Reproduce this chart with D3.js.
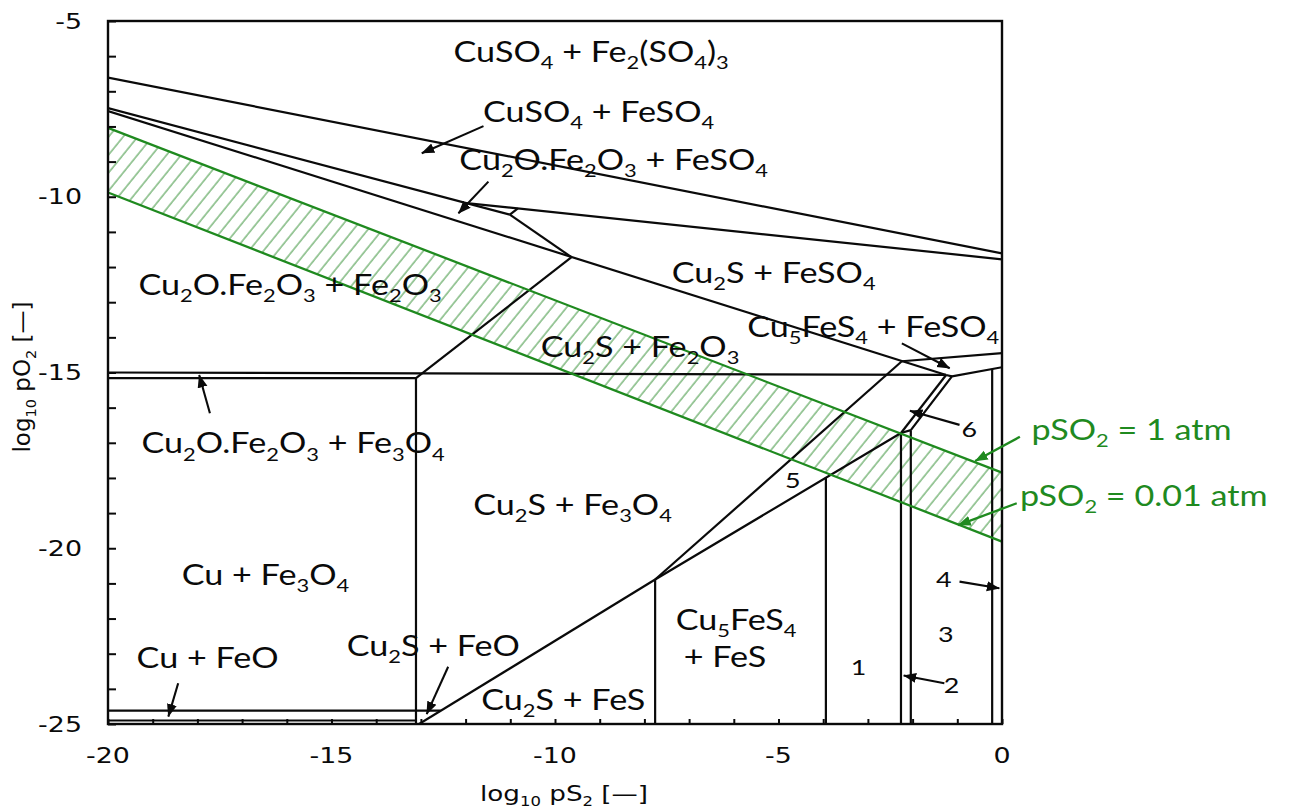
<!DOCTYPE html>
<html>
<head>
<meta charset="utf-8">
<script src="https://cdn.jsdelivr.net/npm/d3@7"></script>
<style>
  html, body { margin: 0; padding: 0; background: #fff; }
  svg { display: block; }
  text { white-space: pre; }
</style>
</head>
<body>
<svg id="chart" width="1291" height="812"></svg>
<script>
// ---- axis ranges and ticks (log10 pS2 on x, log10 pO2 on y) ----
const xDomain = [-20, 0];
const yDomain = [-25, -5];
const xMinorTicks = d3.range(-20, 1, 1);
const yMinorTicks = d3.range(-25, -4, 1);
const xTickLabels = [-20, -15, -10, -5, 0];
const yTickLabels = [-25, -20, -15, -10, -5];

// ---- phase boundaries, polylines in (log10 pS2, log10 pO2) ----
const boundaries = [
  [[-20, -6.61], [0, -11.61]],
  [[-20, -7.48], [-11.01, -10.51]],
  [[-11.98, -10.18], [0, -11.78]],
  [[-11.01, -10.51], [-10.83, -10.33]],
  [[-11.01, -10.51], [-9.63, -11.72]],
  [[-20, -7.56], [-1.25, -15.07]],
  [[-13.11, -15.16], [-9.63, -11.72]],
  [[-20, -15.0], [-1.25, -15.07]],
  [[-20, -15.16], [-13.11, -15.16], [-13.11, -25]],
  [[-20, -24.62], [-12.56, -24.62]],
  [[-20, -24.90], [-13.11, -24.90]],
  [[-13.04, -25], [-7.76, -20.89]],
  [[-7.76, -20.89], [-7.76, -25]],
  [[-7.76, -20.89], [-2.24, -14.68]],
  [[-2.24, -14.68], [0, -14.45]],
  [[-7.76, -20.89], [-2.26, -16.72], [-2.04, -16.64]],
  [[-3.94, -17.99], [-3.94, -25]],
  [[-2.26, -16.72], [-2.26, -25]],
  [[-2.04, -16.64], [-2.04, -25]],
  [[-2.26, -16.72], [-1.25, -15.07]],
  [[-2.04, -16.64], [-1.12, -15.11], [0, -14.85]],
  [[-1.25, -15.07], [-1.12, -15.11]],
  [[-0.22, -14.90], [-0.22, -25]]
];

// ---- SO2 isobars: log10 pO2 at log10 pS2 = -20 and 0 ----
const so2Names = ["pSO_2 = 1 atm", "pSO_2 = 0.01 atm"];
const so2AtLeft = [-8.04, -9.88];
const so2AtRight = [-17.85, -19.81];

// ---- field names (left edge / baseline, in data units) ----
const fieldNames = [
  "CuSO_4 + Fe_2(SO_4)_3", "CuSO_4 + FeSO_4", "Cu_2O.Fe_2O_3 + FeSO_4",
  "Cu_2S + FeSO_4", "Cu_2O.Fe_2O_3 + Fe_2O_3", "Cu_5FeS_4 + FeSO_4",
  "Cu_2S + Fe_2O_3", "Cu_2O.Fe_2O_3 + Fe_3O_4", "Cu_2S + Fe_3O_4",
  "Cu + Fe_3O_4", "Cu_2S + FeO", "Cu + FeO", "Cu_5FeS_4", "+ FeS", "Cu_2S + FeS"
];
const fieldX = [-12.27, -11.61, -12.14, -7.39, -19.32, -5.70, -10.32, -19.25, -11.83, -18.35, -14.66, -19.36, -7.30, -7.12, -11.65];
const fieldY = [-6.16, -7.86, -9.24, -12.45, -12.80, -13.98, -14.55, -17.30, -19.05, -21.05, -23.07, -23.42, -22.33, -23.37, -24.60];

// small numbered fields (centre / baseline)
const fieldNumbers = ["1", "2", "3", "4", "5", "6"];
const numberX = [-3.21, -1.13, -1.26, -1.30, -4.68, -0.73];
const numberY = [-23.61, -24.11, -22.66, -21.09, -18.29, -16.83];

// ---- pointer arrows [from, to] ----
const blackArrows = [
  [[-11.60, -7.99], [-12.98, -8.76]],
  [[-11.49, -9.57], [-12.16, -10.47]],
  [[-17.72, -16.16], [-17.96, -15.07]],
  [[-18.43, -23.84], [-18.65, -24.79]],
  [[-12.39, -23.37], [-12.87, -24.72]],
  [[-2.24, -14.17], [-1.17, -14.88]],
  [[-0.95, -16.49], [-2.06, -16.09]],
  [[-1.29, -23.84], [-2.20, -23.62]],
  [[-0.95, -20.95], [-0.06, -21.14]]
];
const greenArrows = [
  [[0.40, -16.83], [-0.60, -17.52]],
  [[0.33, -18.72], [-0.98, -19.34]]
];
const so2LabelX = [0.66, 0.40];
const so2LabelY = [-16.92, -18.80];

// ---- layout ----
const plot = { left: 108, right: 1002, top: 21, bottom: 724 };
const stretch = 1.22;          // horizontal widening of lettering
const ink = "#0a0a0a";
const green = "#1f8a1f";

const svg = d3.select("#chart");
const x = d3.scaleLinear().domain(xDomain).range([plot.left, plot.right]);
const y = d3.scaleLinear().domain(yDomain).range([plot.bottom, plot.top]);
const line = d3.line().x(d => x(d[0])).y(d => y(d[1]));

const defs = svg.append("defs");
function marker(id, color) {
  defs.append("marker")
    .attr("id", id)
    .attr("markerUnits", "userSpaceOnUse")
    .attr("markerWidth", 14).attr("markerHeight", 11)
    .attr("refX", 12.5).attr("refY", 5.5)
    .attr("orient", "auto")
    .append("path").attr("d", "M0,0.5 L13,5.5 L0,10.5 Z").attr("fill", color);
}
marker("headBlack", ink);
marker("headGreen", green);

// hatch pattern for the SO2 band
defs.append("pattern")
  .attr("id", "hatch")
  .attr("patternUnits", "userSpaceOnUse")
  .attr("width", 11.3).attr("height", 40)
  .attr("patternTransform", "rotate(39)")
  .append("line")
  .attr("x1", 1).attr("y1", 0).attr("x2", 1).attr("y2", 40)
  .attr("stroke", "#4f9e4f").attr("stroke-width", 1.1);

defs.append("clipPath").attr("id", "plotClip")
  .append("rect")
  .attr("x", plot.left).attr("y", plot.top)
  .attr("width", plot.right - plot.left).attr("height", plot.bottom - plot.top);

// rich text with subscripts written as _2 or _{10}
function rich(textSel, str, subSize, shift) {
  const parts = str.split(/(_\{[^}]*\}|_\d+)/).filter(s => s.length);
  let inSub = false;
  parts.forEach(p => {
    if (p[0] === "_") {
      const t = p[1] === "{" ? p.slice(2, -1) : p.slice(1);
      textSel.append("tspan").attr("font-size", subSize).attr("dy", inSub ? 0 : shift).text(t);
      inSub = true;
    } else {
      const ts = textSel.append("tspan").text(p);
      if (inSub) ts.attr("dy", -shift);
      inSub = false;
    }
  });
}
function label(parent, px, py, str, opts) {
  const g = parent.append("g")
    .attr("transform", `translate(${px},${py}) scale(${opts.sx || stretch},1)`);
  const t = g.append("text")
    .attr("font-family", opts.family)
    .attr("font-size", opts.size)
    .attr("fill", opts.color || ink)
    .attr("text-anchor", opts.anchor || "start");
  rich(t, str, opts.subSize || opts.size * 0.64, opts.shift || opts.size * 0.26);
  return g;
}

// ---- SO2 band ----
const bandPts = [
  [xDomain[0], so2AtLeft[0]], [xDomain[1], so2AtRight[0]],
  [xDomain[1], so2AtRight[1]], [xDomain[0], so2AtLeft[1]]
];
svg.append("path")
  .attr("d", line(bandPts) + "Z")
  .attr("fill", "url(#hatch)")
  .attr("clip-path", "url(#plotClip)");

// ---- boundaries ----
svg.append("g").attr("clip-path", "url(#plotClip)")
  .selectAll("path").data(boundaries).join("path")
  .attr("d", line)
  .attr("fill", "none")
  .attr("stroke", ink)
  .attr("stroke-width", 2.2)
  .attr("stroke-linejoin", "round");

// ---- SO2 isobars ----
svg.append("g").selectAll("path")
  .data(so2AtLeft.map((v, i) => [[xDomain[0], v], [xDomain[1], so2AtRight[i]]]))
  .join("path")
  .attr("d", line)
  .attr("fill", "none")
  .attr("stroke", green)
  .attr("stroke-width", 2.3);

// ---- frame and ticks ----
svg.append("rect")
  .attr("x", plot.left).attr("y", plot.top)
  .attr("width", plot.right - plot.left).attr("height", plot.bottom - plot.top)
  .attr("fill", "none").attr("stroke", ink).attr("stroke-width", 2.4);

const xAxis = svg.append("g")
  .attr("transform", `translate(0,${plot.bottom})`)
  .call(d3.axisBottom(x).tickValues(xMinorTicks).tickSize(-5).tickSizeOuter(0).tickFormat(""));
const yAxis = svg.append("g")
  .attr("transform", `translate(${plot.left},0)`)
  .call(d3.axisLeft(y).tickValues(yMinorTicks).tickSize(-8).tickSizeOuter(0).tickFormat(""));
[xAxis, yAxis].forEach(a => {
  a.select(".domain").remove();
  a.selectAll(".tick line").attr("stroke", ink).attr("stroke-width", 2);
});

const tickFont = { family: "DejaVu Sans", size: 21, sx: 1.28 };
xTickLabels.forEach(v => label(svg, x(v), plot.bottom + 39, String(v), Object.assign({ anchor: "middle" }, tickFont)));
yTickLabels.forEach(v => label(svg, plot.left - 26, y(v) + 7.5, String(v), Object.assign({ anchor: "end" }, tickFont)));

// axis titles
label(svg, 564, 801, "log_{10} pS_2 [—]", { family: "DejaVu Sans", size: 21.5, sx: 1.22, anchor: "middle", subSize: 13.5, shift: 5 });
svg.append("g").attr("transform", "translate(30,377) rotate(-90)")
  .call(g => {
    const t = g.append("text").attr("font-family", "DejaVu Sans").attr("font-size", 23)
      .attr("fill", ink).attr("text-anchor", "middle");
    rich(t, "log_{10} pO_2 [—]", 14.5, 5.5);
  });

// ---- arrows ----
svg.append("g").selectAll("line").data(blackArrows).join("line")
  .attr("x1", d => x(d[0][0])).attr("y1", d => y(d[0][1]))
  .attr("x2", d => x(d[1][0])).attr("y2", d => y(d[1][1]))
  .attr("stroke", ink).attr("stroke-width", 2.1)
  .attr("marker-end", "url(#headBlack)");
svg.append("g").selectAll("line").data(greenArrows).join("line")
  .attr("x1", d => x(d[0][0])).attr("y1", d => y(d[0][1]))
  .attr("x2", d => x(d[1][0])).attr("y2", d => y(d[1][1]))
  .attr("stroke", green).attr("stroke-width", 2.3)
  .attr("marker-end", "url(#headGreen)");

// ---- field names ----
const nameFont = { family: "Lato", size: 28 };
fieldNames.forEach((s, i) => label(svg, x(fieldX[i]), y(fieldY[i]), s, nameFont));
fieldNumbers.forEach((s, i) => label(svg, x(numberX[i]), y(numberY[i]), s, { family: "Lato", size: 22, anchor: "middle" }));
so2Names.forEach((s, i) => label(svg, x(so2LabelX[i]), y(so2LabelY[i]), s, { family: "Lato", size: 28, color: green }));
</script>
</body>
</html>
